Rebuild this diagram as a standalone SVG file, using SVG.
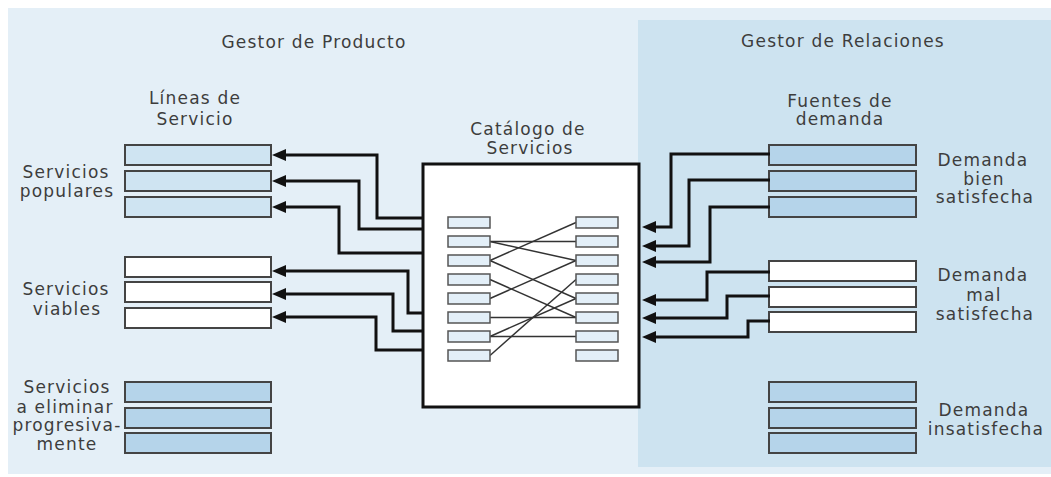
<svg xmlns="http://www.w3.org/2000/svg" width="1051" height="477" viewBox="0 0 1051 477">
  <style>
    .lbl { font-family: "DejaVu Sans", "Liberation Sans", sans-serif; font-size: 17px; fill: #3d3d3d; letter-spacing: 1.2px; text-anchor: middle; }
    .box { stroke: #444; stroke-width: 2; }
    .pale { fill: #cfe4f2; }
    .blue { fill: #b5d4ea; }
    .white { fill: #ffffff; }
    .cell { fill: #e3eff8; stroke: #555; stroke-width: 1.5; }
    .conn { fill: none; stroke: #111; stroke-width: 3; marker-end: url(#arrow); }
    .link { stroke: #333; stroke-width: 1.5; }
  </style>
  <defs>
    <marker id="arrow" markerUnits="userSpaceOnUse" markerWidth="14" markerHeight="12" refX="0" refY="6" orient="auto" overflow="visible">
      <path d="M0,0 L14,6 L0,12 z" fill="#111"/>
    </marker>
  </defs>

  <!-- panels -->
  <rect x="8" y="8" width="1043" height="466" fill="#e4eff7"/>
  <rect x="638" y="20" width="413" height="447" fill="#cde3f0"/>

  <text class="lbl" x="314" y="48">Gestor de Producto</text>
  <text class="lbl" x="843" y="47">Gestor de Relaciones</text>

  <!-- service lines (product manager side) -->
  <g id="lineas-servicio">
    <text class="lbl" x="195" y="104">Líneas de</text>
    <text class="lbl" x="195" y="125">Servicio</text>
  </g>
  <g id="servicios-populares">
    <rect class="box pale" x="125" y="145" width="146" height="20"/>
    <rect class="box pale" x="125" y="171" width="146" height="20"/>
    <rect class="box pale" x="125" y="197" width="146" height="20"/>
    <text class="lbl" x="66" y="178">Servicios</text>
    <text class="lbl" x="67" y="197">populares</text>
  </g>
  <g id="servicios-viables">
    <rect class="box white" x="125" y="257" width="146" height="20"/>
    <rect class="box white" x="125" y="282" width="146" height="20"/>
    <rect class="box white" x="125" y="308" width="146" height="20"/>
    <text class="lbl" x="66" y="295">Servicios</text>
    <text class="lbl" x="67" y="315">viables</text>
  </g>
  <g id="servicios-eliminar">
    <rect class="box blue" x="125" y="382" width="146" height="20"/>
    <rect class="box blue" x="125" y="408" width="146" height="20"/>
    <rect class="box blue" x="125" y="433" width="146" height="20"/>
    <text class="lbl" x="67" y="393">Servicios</text>
    <text class="lbl" x="65" y="413">a eliminar</text>
    <text class="lbl" x="67" y="431">progresiva-</text>
    <text class="lbl" x="67" y="450">mente</text>
  </g>

  <!-- service catalogue -->
  <g id="catalogo">
    <text class="lbl" x="528" y="135">Catálogo de</text>
    <text class="lbl" x="530" y="154">Servicios</text>
    <rect x="423" y="164" width="216" height="243" fill="#fff" stroke="#111" stroke-width="3"/>
    <g id="catalogo-enlaces">
      <line class="link" x1="490" y1="241.5" x2="576" y2="241.5"/>
      <line class="link" x1="490" y1="241.5" x2="576" y2="260.5"/>
      <line class="link" x1="490" y1="260.5" x2="576" y2="222.5"/>
      <line class="link" x1="490" y1="260.5" x2="576" y2="298.5"/>
      <line class="link" x1="490" y1="279.5" x2="576" y2="317.5"/>
      <line class="link" x1="490" y1="298.5" x2="576" y2="260.5"/>
      <line class="link" x1="490" y1="317.5" x2="576" y2="317.5"/>
      <line class="link" x1="490" y1="336.5" x2="576" y2="336.5"/>
      <line class="link" x1="490" y1="336.5" x2="576" y2="298.5"/>
      <line class="link" x1="490" y1="355.5" x2="576" y2="279.5"/>
    </g>
    <g id="catalogo-celdas">
      <rect class="cell" x="448" y="217" width="42" height="11"/>
      <rect class="cell" x="448" y="236" width="42" height="11"/>
      <rect class="cell" x="448" y="255" width="42" height="11"/>
      <rect class="cell" x="448" y="274" width="42" height="11"/>
      <rect class="cell" x="448" y="293" width="42" height="11"/>
      <rect class="cell" x="448" y="312" width="42" height="11"/>
      <rect class="cell" x="448" y="331" width="42" height="11"/>
      <rect class="cell" x="448" y="350" width="42" height="11"/>
      <rect class="cell" x="576" y="217" width="42" height="11"/>
      <rect class="cell" x="576" y="236" width="42" height="11"/>
      <rect class="cell" x="576" y="255" width="42" height="11"/>
      <rect class="cell" x="576" y="274" width="42" height="11"/>
      <rect class="cell" x="576" y="293" width="42" height="11"/>
      <rect class="cell" x="576" y="312" width="42" height="11"/>
      <rect class="cell" x="576" y="331" width="42" height="11"/>
      <rect class="cell" x="576" y="350" width="42" height="11"/>
    </g>
  </g>

  <!-- demand sources (relationship manager side) -->
  <g id="fuentes-demanda">
    <text class="lbl" x="840" y="107">Fuentes de</text>
    <text class="lbl" x="840" y="125">demanda</text>
  </g>
  <g id="demanda-bien">
    <rect class="box blue" x="769" y="145" width="147" height="20"/>
    <rect class="box blue" x="769" y="171" width="147" height="20"/>
    <rect class="box blue" x="769" y="197" width="147" height="20"/>
    <text class="lbl" x="983" y="166">Demanda</text>
    <text class="lbl" x="984" y="185">bien</text>
    <text class="lbl" x="985" y="203">satisfecha</text>
  </g>
  <g id="demanda-mal">
    <rect class="box white" x="769" y="261" width="147" height="20"/>
    <rect class="box white" x="769" y="287" width="147" height="20"/>
    <rect class="box white" x="769" y="312" width="147" height="20"/>
    <text class="lbl" x="983" y="281">Demanda</text>
    <text class="lbl" x="984" y="301">mal</text>
    <text class="lbl" x="985" y="320">satisfecha</text>
  </g>
  <g id="demanda-insatisfecha">
    <rect class="box blue" x="769" y="382" width="147" height="20"/>
    <rect class="box blue" x="769" y="408" width="147" height="20"/>
    <rect class="box blue" x="769" y="433" width="147" height="20"/>
    <text class="lbl" x="984" y="416">Demanda</text>
    <text class="lbl" x="986" y="435">insatisfecha</text>
  </g>

  <!-- connectors -->
  <g id="connectors">
    <path class="conn" d="M422,218 H377 V155 H286"/>
    <path class="conn" d="M422,229 H359 V181 H286"/>
    <path class="conn" d="M422,253 H339 V207 H286"/>
    <path class="conn" d="M422,313 H408 V271 H286"/>
    <path class="conn" d="M422,331 H393 V294 H286"/>
    <path class="conn" d="M422,350 H376 V317 H286"/>
    <path class="conn" d="M770,154 H671 V227 H656"/>
    <path class="conn" d="M770,180 H689 V246 H656"/>
    <path class="conn" d="M770,207 H710 V262 H656"/>
    <path class="conn" d="M770,272 H707 V300 H656"/>
    <path class="conn" d="M770,296 H727 V318 H656"/>
    <path class="conn" d="M770,321 H748 V337 H656"/>
  </g>
</svg>
